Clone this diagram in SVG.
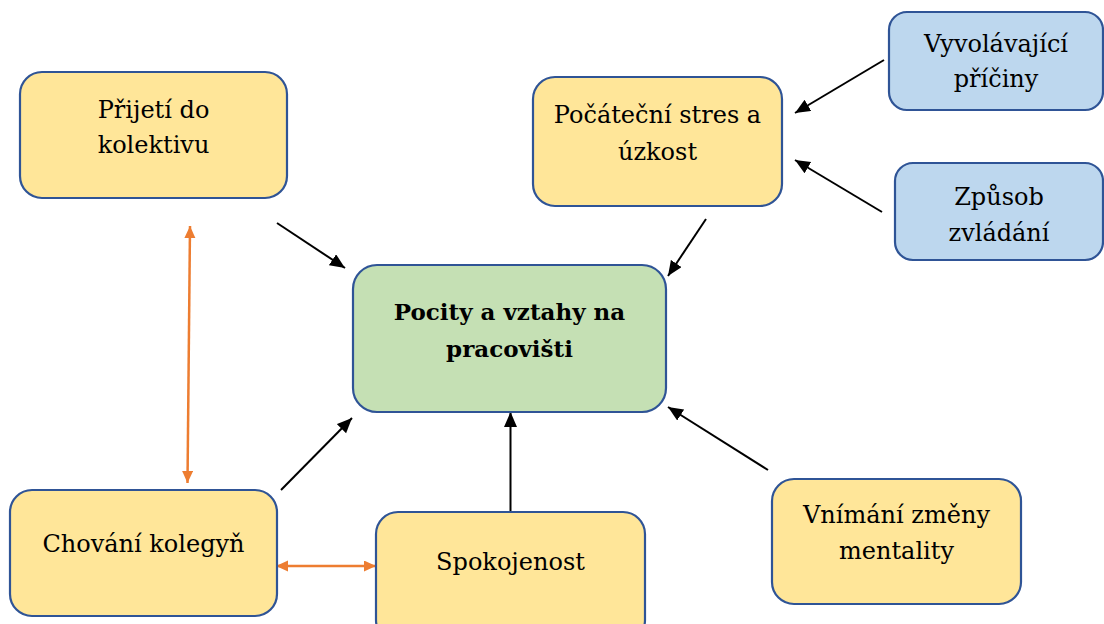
<svg xmlns="http://www.w3.org/2000/svg" width="1104" height="624" viewBox="0 0 1104 624">
<style>
.box{stroke:#2F5496;stroke-width:2.2}
.y{fill:#FFE699}
.g{fill:#C5E0B4}
.b{fill:#BDD7EE}
text{font-family:"DejaVu Serif","Liberation Serif",serif;font-size:24px;fill:#000;text-anchor:middle}
.bold{font-weight:bold;font-size:23px}
.blk{stroke:#000;stroke-width:2;fill:none;marker-end:url(#ah)}
.org{stroke:#ED7D31;stroke-width:2.5;fill:none;marker-end:url(#oh);marker-start:url(#oh)}
</style>
<defs>
<marker id="ah" markerUnits="userSpaceOnUse" markerWidth="16" markerHeight="14" refX="15" refY="6.5" orient="auto">
<path d="M0,0 L15,6.5 L0,13 z" fill="#000"/>
</marker>
<marker id="oh" markerUnits="userSpaceOnUse" markerWidth="14" markerHeight="12" refX="12" refY="5.5" orient="auto-start-reverse">
<path d="M0,0 L12,5.5 L0,11 z" fill="#ED7D31"/>
</marker>
</defs>
<rect width="1104" height="624" fill="#fff"/>
<g id="connectors">
<line class="blk" x1="277" y1="223" x2="345" y2="268"/>
<line class="blk" x1="706" y1="219" x2="668" y2="276"/>
<line class="blk" x1="884" y1="60" x2="795" y2="113"/>
<line class="blk" x1="882" y1="212" x2="795" y2="160"/>
<line class="blk" x1="281" y1="490" x2="352" y2="418"/>
<line class="blk" x1="510.5" y1="512" x2="510.5" y2="412"/>
<line class="blk" x1="768" y1="470" x2="668" y2="407"/>
<line class="org" x1="190" y1="226" x2="187.5" y2="483"/>
<line class="org" x1="276" y1="566" x2="376" y2="566"/>
</g>
<g id="prijeti">
<rect class="box y" x="20" y="72" width="267" height="126" rx="22"/>
<text x="153.5" y="118">Přijetí do</text>
<text x="153.5" y="153">kolektivu</text>
</g>
<g id="pocatecni">
<rect class="box y" x="533" y="77" width="249" height="129" rx="22"/>
<text x="657.5" y="123">Počáteční stres a</text>
<text x="657.5" y="160">úzkost</text>
</g>
<g id="vyvolavajici">
<rect class="box b" x="889" y="12" width="214" height="98" rx="18"/>
<text x="996" y="52">Vyvolávající</text>
<text x="996" y="87">příčiny</text>
</g>
<g id="zpusob">
<rect class="box b" x="895" y="163" width="208" height="97" rx="18"/>
<text x="999" y="205">Způsob</text>
<text x="999" y="241">zvládání</text>
</g>
<g id="pocity">
<rect class="box g" x="353" y="265" width="313" height="147" rx="24"/>
<text class="bold" x="509.5" y="320">Pocity a vztahy na</text>
<text class="bold" x="509.5" y="357">pracovišti</text>
</g>
<g id="chovani">
<rect class="box y" x="10" y="490" width="267" height="126" rx="22"/>
<text x="143.5" y="552">Chování kolegyň</text>
</g>
<g id="spokojenost">
<rect class="box y" x="376" y="512" width="269" height="130" rx="22"/>
<text x="510.5" y="570">Spokojenost</text>
</g>
<g id="vnimani">
<rect class="box y" x="772" y="479" width="249" height="125" rx="22"/>
<text x="896.5" y="523">Vnímání změny</text>
<text x="896.5" y="559">mentality</text>
</g>
</svg>
